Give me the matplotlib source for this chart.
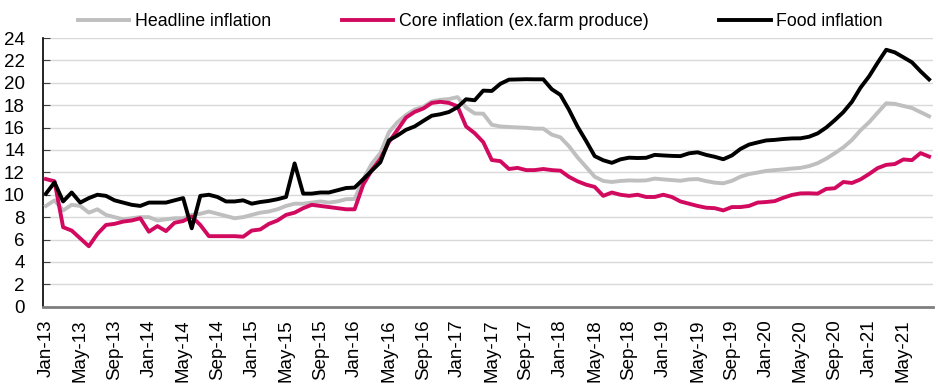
import numpy as np
import matplotlib.pyplot as plt

months = ["Jan", "Feb", "Mar", "Apr", "May", "Jun",
          "Jul", "Aug", "Sep", "Oct", "Nov", "Dec"]
dates = [f"{m}-{y}" for y in range(13, 22) for m in months][:104]  # Jan-13 .. Aug-21

headline = [9.0, 9.5, 8.6, 9.1, 9.0, 8.4, 8.7, 8.2, 8.0, 7.8, 7.9, 8.0,
            8.0, 7.7, 7.8, 7.9, 7.9, 8.2, 8.3, 8.5, 8.3, 8.1, 7.9, 8.0,
            8.2, 8.4, 8.5, 8.7, 9.0, 9.2, 9.2, 9.3, 9.4, 9.3, 9.4, 9.6,
            9.62, 11.38, 12.77, 13.72, 15.58, 16.48, 17.13, 17.61, 17.85, 18.33, 18.48, 18.55,
            18.72, 17.78, 17.26, 17.24, 16.25, 16.10, 16.05, 16.01, 15.98, 15.91, 15.90, 15.37,
            15.13, 14.33, 13.34, 12.48, 11.61, 11.23, 11.14, 11.23, 11.28, 11.26, 11.28, 11.44,
            11.37, 11.31, 11.25, 11.37, 11.40, 11.22, 11.08, 11.02, 11.24, 11.61, 11.85, 11.98,
            12.13, 12.20, 12.26, 12.34, 12.40, 12.56, 12.82, 13.22, 13.71, 14.23, 14.89, 15.75,
            16.47, 17.33, 18.17, 18.12, 17.93, 17.75, 17.38, 17.01]

core = [11.4, 11.2, 7.1, 6.8, 6.1, 5.4, 6.5, 7.3, 7.4, 7.6, 7.7, 7.9,
        6.7, 7.2, 6.75, 7.5, 7.65, 8.05, 7.3, 6.3, 6.3, 6.3, 6.3, 6.25,
        6.8, 6.9, 7.4, 7.7, 8.2, 8.4, 8.8, 9.1, 9.0, 8.9, 8.8, 8.7,
        8.7, 10.9, 12.2, 13.2, 14.7, 15.8, 16.9, 17.4, 17.7, 18.2, 18.3, 18.2,
        17.9, 16.1, 15.5, 14.7, 13.1, 13.0, 12.3, 12.4, 12.2, 12.2, 12.3, 12.2,
        12.15, 11.6, 11.2, 10.9, 10.7, 9.9, 10.2, 10.0, 9.9, 10.0, 9.8, 9.8,
        10.0, 9.8, 9.4, 9.2, 9.0, 8.84, 8.8, 8.6, 8.9, 8.9, 9.0, 9.3,
        9.35, 9.43, 9.73, 9.98, 10.12, 10.13, 10.10, 10.52, 10.58, 11.14, 11.05, 11.37,
        11.85, 12.38, 12.67, 12.74, 13.15, 13.09, 13.72, 13.41]

food = [10.1, 11.1, 9.4, 10.2, 9.3, 9.7, 10.0, 9.9, 9.5, 9.3, 9.1, 9.0,
        9.3, 9.3, 9.3, 9.5, 9.7, 7.0, 9.9, 10.0, 9.8, 9.4, 9.4, 9.5,
        9.2, 9.35, 9.45, 9.6, 9.8, 12.8, 10.1, 10.1, 10.2, 10.2, 10.4, 10.6,
        10.64, 11.38, 12.15, 12.90, 14.86, 15.30, 15.80, 16.10, 16.59, 17.06, 17.19, 17.39,
        17.82, 18.53, 18.44, 19.30, 19.27, 19.91, 20.28, 20.30, 20.32, 20.31, 20.31, 19.42,
        18.92, 17.59, 16.08, 14.80, 13.45, 13.08, 12.85, 13.16, 13.31, 13.28, 13.30, 13.56,
        13.51, 13.47, 13.45, 13.70, 13.79, 13.56, 13.39, 13.17, 13.51, 14.09, 14.48, 14.67,
        14.85, 14.90, 14.98, 15.03, 15.04, 15.18, 15.48, 16.00, 16.66, 17.38, 18.30, 19.56,
        20.57, 21.79, 22.95, 22.72, 22.28, 21.83, 21.03, 20.30]

plt.rcParams['font.family'] = ['Liberation Sans', 'DejaVu Sans']

x = np.arange(len(dates))

fig = plt.figure(figsize=(9.38, 3.87), dpi=100)
ax = fig.add_axes([0.0458, 0.2075, 0.9488, 0.6943])

ax.plot(x, headline, color='#bfbfbf', lw=2.8, label='Headline inflation', zorder=3)
ax.plot(x, core, color='#d10a5f', lw=2.8, label='Core inflation (ex.farm produce)', zorder=4)
ax.plot(x, food, color='black', lw=2.8, label='Food inflation', zorder=5)

ax.set_ylim(0, 24)
ax.set_yticks(np.arange(0, 25, 2))
ax.set_xlim(-0.35, 103.45)
ax.set_xticks(x[::4])
ax.set_xticklabels(dates[::4], rotation=90)

ax.grid(axis='y', color='#d9d9d9', lw=1)
ax.set_axisbelow(True)
for s in ['top', 'right']:
    ax.spines[s].set_visible(False)
ax.spines['left'].set_color('black')
ax.spines['left'].set_linewidth(1.2)
ax.spines['bottom'].set_color('#7f7f7f')
ax.spines['bottom'].set_linewidth(2)

ax.tick_params(axis='y', direction='in', length=5, color='#404040', labelsize=13.5, pad=13)
ax.tick_params(axis='x', length=0, labelsize=13.5, pad=9)

fig.legend(loc='upper center', bbox_to_anchor=(0.512, 1.008), ncol=3, frameon=False,
           fontsize=12.8, handlelength=2.9, handletextpad=0.3, columnspacing=4.0)

fig.savefig('out.png', dpi=100)
